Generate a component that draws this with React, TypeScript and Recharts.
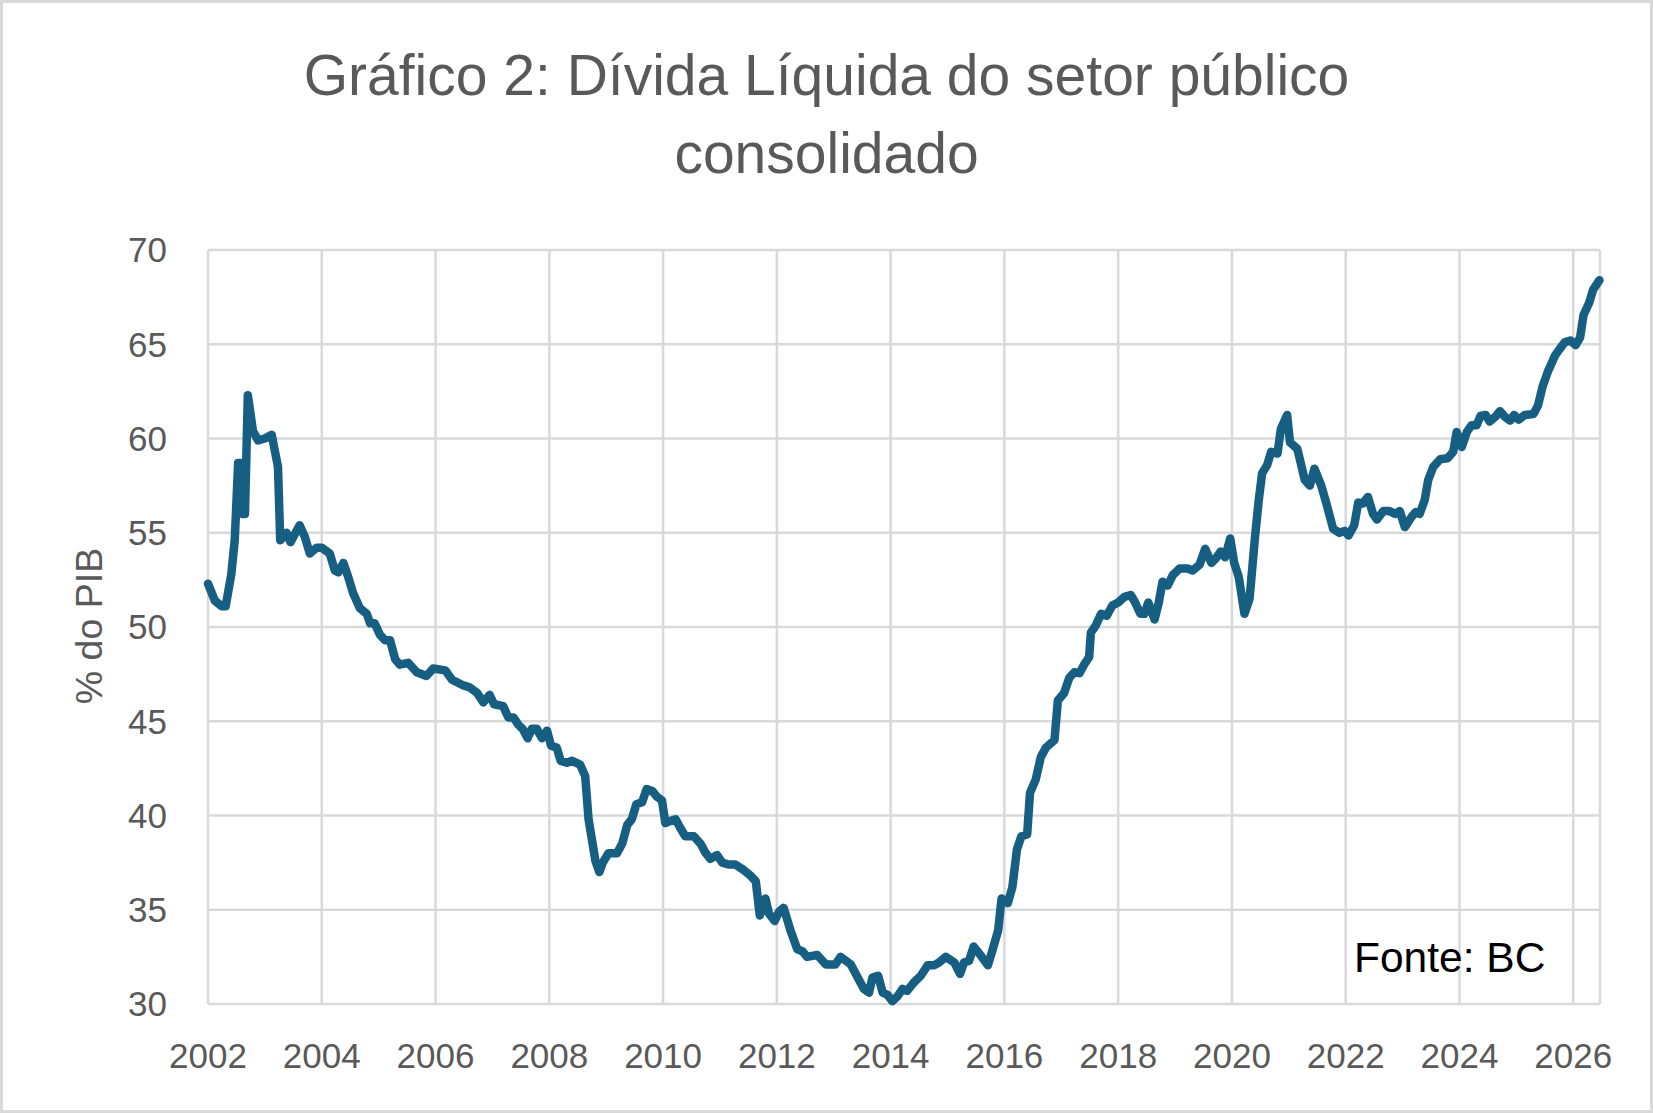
import React from "react";
import { CartesianGrid, Line, LineChart, XAxis, YAxis } from "recharts";

// Dívida líquida do setor público consolidado, % do PIB.
const years = [
  2002.0, 2002.12, 2002.24, 2002.31, 2002.41, 2002.47, 2002.53, 2002.57, 2002.6, 2002.65,
  2002.7, 2002.79, 2002.88, 2003.0, 2003.12, 2003.23, 2003.27, 2003.38, 2003.45, 2003.61,
  2003.7, 2003.79, 2003.91, 2004.0, 2004.14, 2004.23, 2004.29, 2004.38, 2004.46, 2004.55,
  2004.67, 2004.79, 2004.85, 2004.93, 2005.02, 2005.11, 2005.2, 2005.29, 2005.37, 2005.52,
  2005.67, 2005.84, 2005.96, 2006.17, 2006.29, 2006.49, 2006.6, 2006.73, 2006.84, 2006.95,
  2007.03, 2007.19, 2007.28, 2007.37, 2007.46, 2007.53, 2007.62, 2007.69, 2007.78, 2007.87,
  2007.96, 2008.03, 2008.13, 2008.2, 2008.31, 2008.4, 2008.54, 2008.63, 2008.69, 2008.81,
  2008.88, 2008.94, 2009.04, 2009.19, 2009.28, 2009.37, 2009.45, 2009.53, 2009.63, 2009.71,
  2009.81, 2009.89, 2009.98, 2010.04, 2010.12, 2010.22, 2010.31, 2010.39, 2010.54, 2010.66,
  2010.75, 2010.83, 2010.95, 2011.04, 2011.15, 2011.27, 2011.42, 2011.54, 2011.63, 2011.7,
  2011.8, 2011.86, 2011.96, 2012.04, 2012.12, 2012.24, 2012.36, 2012.45, 2012.53, 2012.71,
  2012.86, 2013.03, 2013.12, 2013.3, 2013.44, 2013.53, 2013.62, 2013.68, 2013.78, 2013.86,
  2013.94, 2014.03, 2014.12, 2014.21, 2014.29, 2014.41, 2014.53, 2014.65, 2014.76, 2014.85,
  2014.97, 2015.12, 2015.22, 2015.29, 2015.38, 2015.46, 2015.59, 2015.71, 2015.79, 2015.89,
  2015.95, 2016.06, 2016.14, 2016.22, 2016.3, 2016.4, 2016.45, 2016.55, 2016.64, 2016.73,
  2016.88, 2016.94, 2017.05, 2017.14, 2017.23, 2017.32, 2017.4, 2017.49, 2017.52, 2017.61,
  2017.7, 2017.8, 2017.9, 2018.0, 2018.11, 2018.22, 2018.29, 2018.39, 2018.46, 2018.53,
  2018.64, 2018.71, 2018.78, 2018.87, 2018.96, 2019.08, 2019.22, 2019.31, 2019.43, 2019.53,
  2019.64, 2019.72, 2019.8, 2019.88, 2019.97, 2020.04, 2020.12, 2020.22, 2020.31, 2020.4,
  2020.47, 2020.53, 2020.62, 2020.69, 2020.8, 2020.86, 2020.97, 2021.02, 2021.15, 2021.28,
  2021.37, 2021.45, 2021.57, 2021.66, 2021.78, 2021.89, 2021.98, 2022.05, 2022.15, 2022.22,
  2022.3, 2022.39, 2022.48, 2022.55, 2022.66, 2022.77, 2022.87, 2022.95, 2023.04, 2023.16,
  2023.23, 2023.3, 2023.39, 2023.45, 2023.54, 2023.66, 2023.79, 2023.89, 2023.95, 2024.04,
  2024.13, 2024.21, 2024.3, 2024.37, 2024.46, 2024.53, 2024.63, 2024.71, 2024.8, 2024.89,
  2024.96, 2025.04, 2025.15, 2025.3, 2025.38, 2025.46, 2025.56, 2025.68, 2025.75, 2025.85,
  2025.95, 2026.04, 2026.12, 2026.18, 2026.28, 2026.35, 2026.46,
];

const debt = [
  52.3, 51.4, 51.1, 51.1, 52.8, 54.6, 58.7, 58.7, 56.0, 56.0,
  62.3, 60.4, 59.9, 60.0, 60.2, 58.5, 54.6, 55.0, 54.5, 55.4,
  54.8, 53.9, 54.2, 54.2, 53.9, 53.0, 52.9, 53.4, 52.7, 51.8,
  51.0, 50.7, 50.2, 50.2, 49.6, 49.3, 49.3, 48.3, 48.0, 48.1,
  47.6, 47.4, 47.8, 47.7, 47.2, 46.9, 46.8, 46.5, 46.0, 46.4,
  45.9, 45.8, 45.2, 45.2, 44.8, 44.6, 44.1, 44.6, 44.6, 44.1,
  44.5, 43.7, 43.6, 42.9, 42.8, 42.9, 42.7, 42.1, 39.8, 37.6,
  37.0, 37.5, 38.0, 38.0, 38.5, 39.5, 39.8, 40.6, 40.7, 41.4,
  41.3, 41.0, 40.8, 39.6, 39.7, 39.8, 39.3, 38.9, 38.9, 38.5,
  38.0, 37.7, 37.9, 37.5, 37.4, 37.4, 37.1, 36.8, 36.5, 34.7,
  35.6, 34.8, 34.4, 34.9, 35.1, 33.9, 32.9, 32.8, 32.5, 32.6,
  32.1, 32.1, 32.5, 32.1, 31.3, 30.8, 30.6, 31.4, 31.5, 30.6,
  30.5, 30.15, 30.4, 30.8, 30.7, 31.15, 31.5, 32.05, 32.05, 32.2,
  32.5, 32.2, 31.6, 32.2, 32.3, 33.05, 32.55, 32.05, 32.85, 33.9,
  35.6, 35.35, 36.2, 38.2, 38.9, 39.0, 41.2, 41.9, 43.1, 43.6,
  44.0, 46.1, 46.5, 47.3, 47.6, 47.55, 48.0, 48.4, 49.7, 50.1,
  50.7, 50.6, 51.15, 51.3, 51.6, 51.7, 51.35, 50.7, 50.7, 51.3,
  50.4, 51.25, 52.4, 52.2, 52.75, 53.1, 53.1, 53.0, 53.3, 54.15,
  53.4, 53.65, 54.0, 53.7, 54.7, 53.4, 52.65, 50.7, 51.5, 54.6,
  56.7, 58.15, 58.6, 59.3, 59.2, 60.5, 61.25, 59.8, 59.45, 57.8,
  57.5, 58.4, 57.5, 56.55, 55.2, 55.0, 55.1, 54.85, 55.4, 56.6,
  56.55, 56.9, 56.0, 55.7, 56.15, 56.15, 56.0, 56.15, 55.3, 55.85,
  56.1, 56.0, 56.75, 57.8, 58.5, 58.9, 58.95, 59.3, 60.35, 59.55,
  60.35, 60.7, 60.7, 61.2, 61.25, 60.9, 61.15, 61.45, 61.15, 60.95,
  61.25, 61.0, 61.25, 61.3, 61.75, 62.75, 63.6, 64.4, 64.7, 65.1,
  65.2, 64.95, 65.35, 66.55, 67.2, 67.9, 68.4,
];

const yearTicks = [2002, 2004, 2006, 2008, 2010, 2012, 2014, 2016, 2018, 2020, 2022, 2024, 2026];
const valueTicks = [30, 35, 40, 45, 50, 55, 60, 65, 70];

const data = years.map((x, i) => ({ x, y: debt[i] }));

const FONT = '"Liberation Sans", Arial, sans-serif';
const GREY_TEXT = "#595959";
const GRID = "#d9d9d9";

export default function App() {
  return (
    <div
      style={{
        position: "absolute",
        left: 0,
        top: 0,
        width: 1653,
        height: 1113,
        background: "#fff",
        boxShadow: `inset 0 0 0 3px ${GRID}`,
        fontFamily: FONT,
      }}
    >
      <LineChart
        width={1653}
        height={1113}
        data={data}
        margin={{ top: 250, right: 53, bottom: 29, left: 108 }}
      >
        <CartesianGrid stroke={GRID} strokeWidth={2.5} />
        <XAxis
          dataKey="x"
          type="number"
          domain={[2002, 2026.47]}
          ticks={yearTicks}
          interval={0}
          height={80}
          axisLine={false}
          tickLine={false}
          tickSize={0}
          tickMargin={39}
          tick={{ fill: GREY_TEXT, fontSize: 35, fontFamily: FONT }}
          tickFormatter={(v: number) => String(Math.round(v))}
        />
        <YAxis
          type="number"
          domain={[30, 70]}
          ticks={valueTicks}
          interval={0}
          width={100}
          axisLine={false}
          tickLine={false}
          tickSize={0}
          tickMargin={41}
          tick={{ fill: GREY_TEXT, fontSize: 35, fontFamily: FONT }}
        />
        <Line
          dataKey="y"
          type="linear"
          stroke="#165f82"
          strokeWidth={8.5}
          strokeLinejoin="round"
          strokeLinecap="round"
          dot={false}
          activeDot={false}
          isAnimationActive={false}
        />
      </LineChart>

      <svg
        width={1653}
        height={1113}
        style={{ position: "absolute", left: 0, top: 0, pointerEvents: "none" }}
      >
        <g fontFamily={FONT} fill={GREY_TEXT} textAnchor="middle" fontSize={57}>
          <text x={826.5} y={95}>Gráfico 2: Dívida Líquida do setor público</text>
          <text x={826.5} y={173}>consolidado</text>
        </g>
        <text
          transform="translate(102,626) rotate(-90)"
          textAnchor="middle"
          fontFamily={FONT}
          fontSize={37.5}
          fill={GREY_TEXT}
        >
          % do PIB
        </text>
        <text x={1354} y={972} fontFamily={FONT} fontSize={42.5} fill="#000">
          Fonte: BC
        </text>
      </svg>
    </div>
  );
}
